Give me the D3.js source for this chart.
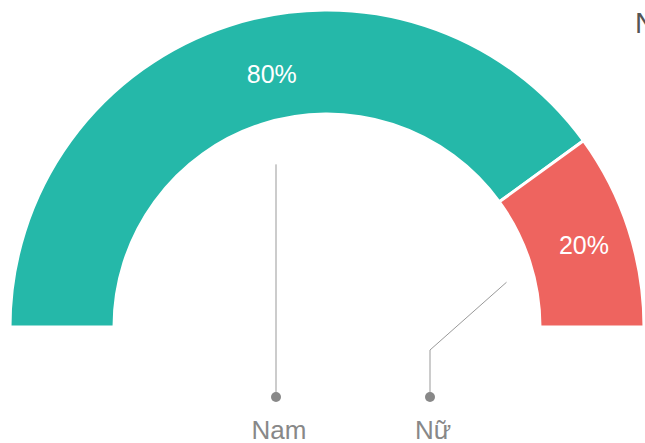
<!DOCTYPE html>
<html>
<head>
<meta charset="utf-8">
<script src="https://cdn.jsdelivr.net/npm/d3@7"></script>
<style>
  body { margin: 0; background: #fff; overflow: hidden; }
  text { font-family: "Liberation Sans", Arial, sans-serif; }
</style>
</head>
<body>
<div id="svgdiv"></div>
<script>
// chart data
var categories = ["Nam", "Nữ"];
var values = [80, 20];
var colors = ["#25b8a9", "#ee645f"];

var width = 645, height = 443;
var cx = 327, cy = 327;
var outerR = 317, innerR = 213;

let svg = d3.select("#svgdiv").append("svg")
    .attr("width", width)
    .attr("height", height);

let g = svg.append("g").attr("transform", "translate(" + cx + "," + cy + ")");

// half donut, left to right
let pie = d3.pie()
    .sort(null)
    .value(d => d)
    .startAngle(-Math.PI / 2)
    .endAngle(Math.PI / 2);

let arcs = pie(values);

let arc = d3.arc()
    .innerRadius(innerR)
    .outerRadius(outerR);

g.selectAll("path.slice")
  .data(arcs)
  .enter().append("path")
    .attr("class", "slice")
    .attr("d", arc)
    .attr("fill", (d, i) => colors[i])
    .attr("stroke", "#fff")
    .attr("stroke-width", 3);

// percent labels
let total = d3.sum(values);
let labelArc = d3.arc().innerRadius(266).outerRadius(266);
g.selectAll("text.pct")
  .data(arcs)
  .enter().append("text")
    .attr("class", "pct")
    .attr("x", d => labelArc.centroid(d)[0] + (d.index == 0 ? 27 : 4))
    .attr("y", d => labelArc.centroid(d)[1])
    .attr("dy", "0.35em")
    .attr("text-anchor", "middle")
    .attr("fill", "#fff")
    .style("font-size", "25px")
    .text(d => Math.round(d.value / total * 100) + "%");

// leader lines to category labels below the hole
let labelX = [276 - cx, 430 - cx];
let dotY = 397 - cy;
let startR = [171, 185];
let startShift = [0, 4 * Math.PI / 180];

arcs.forEach(function(d, i) {
    let a = (d.startAngle + d.endAngle) / 2 + startShift[i];
    let sx = startR[i] * Math.sin(a);
    let sy = -startR[i] * Math.cos(a);
    let pts;
    if (Math.abs(sx - labelX[i]) < 2) {
        pts = [[labelX[i], sy], [labelX[i], dotY]];
    } else {
        pts = [[sx, sy], [labelX[i], 350 - cy], [labelX[i], dotY]];
    }
    g.append("path")
      .attr("d", d3.line()(pts))
      .attr("fill", "none")
      .attr("stroke", "#999")
      .attr("stroke-width", 1);

    g.append("circle")
      .attr("cx", labelX[i])
      .attr("cy", dotY)
      .attr("r", 5)
      .attr("fill", "#888");

    g.append("text")
      .attr("x", labelX[i] + 3)
      .attr("y", 439 - cy)
      .attr("text-anchor", "middle")
      .attr("fill", "#888")
      .style("font-size", "26px")
      .text(categories[i]);
});

// legend title, cut off at the right edge
svg.append("text")
  .attr("x", 635)
  .attr("y", 33)
  .attr("fill", "#555")
  .style("font-size", "29px")
  .text(categories[0]);
</script>
</body>
</html>
